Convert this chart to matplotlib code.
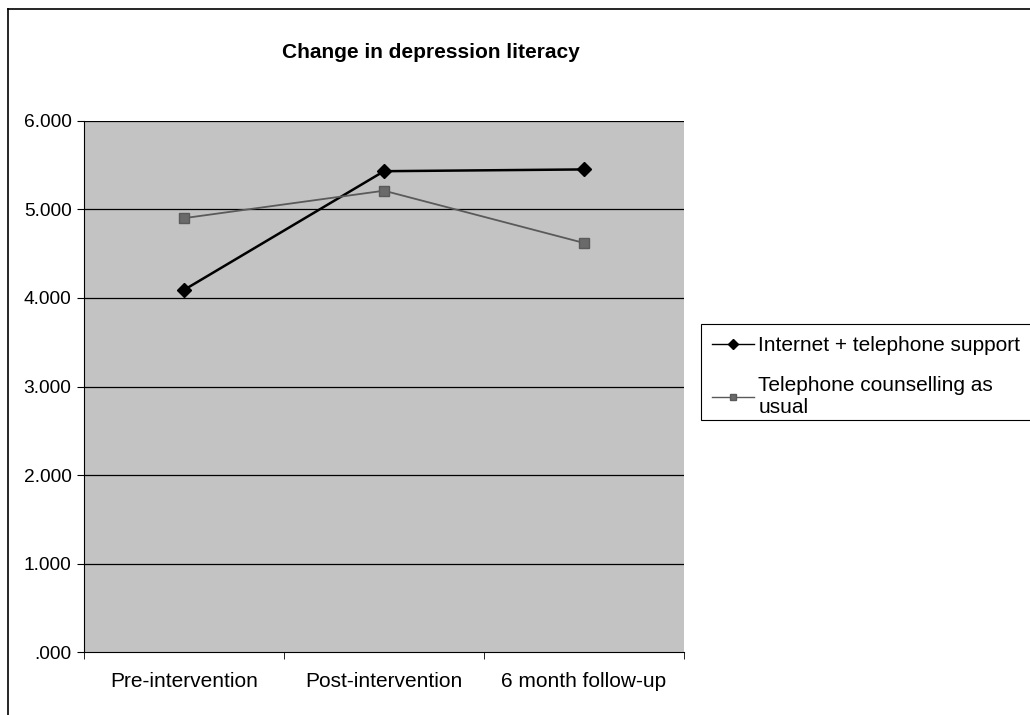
import matplotlib
matplotlib.use("Agg")
import matplotlib.pyplot as plt
from matplotlib.patches import Rectangle
from matplotlib.lines import Line2D

categories = ["Pre-intervention", "Post-intervention", "6 month follow-up"]
internet_support = [4.09, 5.43, 5.45]
counselling_usual = [4.90, 5.21, 4.62]
y_ticks = [0, 1, 2, 3, 4, 5, 6]
series_names = ["Internet + telephone support", "Telephone counselling as\nusual"]
title = "Change in depression literacy"

plt.rcParams['font.family'] = ['Liberation Sans', 'DejaVu Sans']

fig = plt.figure(figsize=(10.30, 7.15), dpi=100)
fig.patch.set_facecolor('white')

# outer chart border (left & top visible)
fig.add_artist(Line2D([8/1030, 8/1030], [0, 1 - 9/715], color='black', lw=1.2, transform=fig.transFigure))
fig.add_artist(Line2D([8/1030, 1], [1 - 9/715, 1 - 9/715], color='black', lw=1.2, transform=fig.transFigure))

ax = fig.add_axes([84/1030, (715-652.3)/715, 600/1030, (652.3-120.7)/715])
ax.set_facecolor('#c3c3c3')
x = list(range(len(categories)))
ax.set_xlim(-0.5, len(categories) - 0.5)
ax.set_ylim(0, 6)

for v in y_ticks[1:]:
    ax.axhline(v, color='black', lw=0.9, zorder=1)

ax.plot(x, internet_support, color='black', lw=1.8, marker='D', markersize=7,
        markerfacecolor='black', markeredgecolor='black', label=series_names[0], zorder=3)
ax.plot(x, counselling_usual, color='#5a5a5a', lw=1.3, marker='s', markersize=7,
        markerfacecolor='#6a6a6a', markeredgecolor='#5a5a5a', label=series_names[1], zorder=3)

ax.set_yticks(y_ticks)
ax.set_yticklabels([("%.3f" % v).lstrip('0') if v == 0 else "%.3f" % v for v in y_ticks], fontsize=13.8)
ax.set_xticks(x)
ax.set_xticklabels(categories, fontsize=15)
ax.tick_params(axis='x', length=0, pad=14)
ax.set_xticks([-0.5, 0.5, 1.5, 2.5], minor=True)
ax.tick_params(axis='x', which='minor', length=5, direction='out', color='black')
ax.tick_params(axis='y', length=5, direction='out', pad=4)

for s in ['top', 'right']:
    ax.spines[s].set_visible(False)
ax.spines['left'].set_color('black')
ax.spines['bottom'].set_color('black')

fig.text(0.418, 1 - 52/715, title, ha='center', va='center', fontsize=15, fontweight='bold')

# legend frame
fig.add_artist(Rectangle((701/1030, (715-420)/715), 0.5, (420-324)/715, transform=fig.transFigure,
                         facecolor='white', edgecolor='black', lw=0.8, zorder=-1))
leg = ax.legend(loc='upper left', bbox_to_anchor=(704/1030, 1 - 328/715), bbox_transform=fig.transFigure,
                frameon=False, fontsize=15, handlelength=2.0, handletextpad=0.2, labelspacing=1.0,
                borderaxespad=0)
for h in leg.legend_handles:
    h.set_markersize(5)
    h.set_linewidth(1.0)

fig.savefig("out.png", dpi=100)
